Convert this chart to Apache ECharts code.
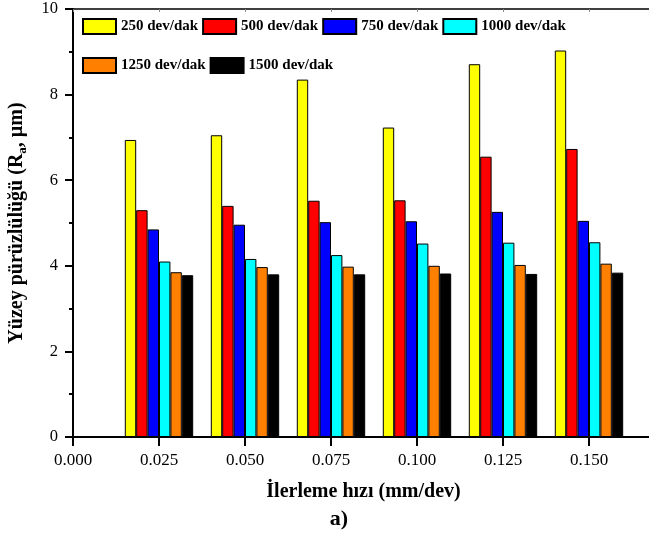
<!DOCTYPE html>
<html>
<head>
<meta charset="utf-8">
<script src="https://cdn.jsdelivr.net/npm/echarts@6/dist/echarts.min.js"></script>
<style>
  html, body { margin: 0; padding: 0; background: #fff; }
  #chart { width: 649px; height: 542px; }
</style>
</head>
<body>
<div id="chart"></div>
<script>
// ilerleme hızı (mm/dev)
const feeds = [0.025, 0.050, 0.075, 0.100, 0.125, 0.150];
const seriesNames = ['250 dev/dak', '500 dev/dak', '750 dev/dak', '1000 dev/dak', '1250 dev/dak', '1500 dev/dak'];
const seriesColors = ['#FFFF00', '#FF0000', '#0000FF', '#00FFFF', '#FF8000', '#000000'];
// Ra değerleri (µm)
const ra250 = [6.94, 7.05, 8.35, 7.23, 8.71, 9.03];
const ra500 = [5.30, 5.40, 5.52, 5.53, 6.55, 6.73];
const ra750 = [4.85, 4.96, 5.02, 5.04, 5.26, 5.05];
const ra1000 = [4.10, 4.16, 4.25, 4.52, 4.54, 4.55];
const ra1250 = [3.85, 3.97, 3.98, 4.00, 4.02, 4.05];
const ra1500 = [3.78, 3.80, 3.80, 3.82, 3.81, 3.84];
const allSeries = [ra250, ra500, ra750, ra1000, ra1250, ra1500];

const FONT = '"Liberation Serif", "Times New Roman", serif';

const chart = echarts.init(document.getElementById('chart'));

const legendBase = {
  orient: 'horizontal',
  left: 77,
  padding: 5,
  icon: 'rect',
  itemWidth: 33,
  itemHeight: 15,
  itemGap: 4,
  selectedMode: false,
  textStyle: { fontFamily: FONT, fontWeight: 'bold', fontSize: 15, color: '#000' }
};

const option = {
  backgroundColor: '#fff',
  animation: false,
  grid: { left: 73, top: 9, bottom: 105, right: -26, outerBoundsMode: 'none', containLabel: false },
  legend: [
    Object.assign({}, legendBase, { top: 13, data: seriesNames.slice(0, 4) }),
    Object.assign({}, legendBase, { top: 52, data: seriesNames.slice(4) })
  ],
  xAxis: [
    {
      type: 'value',
      min: 0,
      max: 0.175,
      interval: 0.025,
      name: 'İlerleme hızı (mm/dev)',
      nameLocation: 'middle',
      nameGap: 45,
      nameTextStyle: {
        fontFamily: FONT, fontWeight: 'bold', fontSize: 20, color: '#000',
        padding: [0, 21, 0, 0]
      },
      axisLine: { show: true, onZero: false, lineStyle: { color: '#000', width: 2 } },
      axisTick: { show: true, inside: false, length: 9, lineStyle: { color: '#000', width: 2 } },
      axisLabel: {
        fontFamily: FONT, fontSize: 17, color: '#000', margin: 15,
        formatter: v => v.toFixed(3)
      },
      splitLine: { show: false }
    },
    {
      type: 'value',
      position: 'top',
      min: 0,
      max: 0.175,
      interval: 0.025,
      axisLine: { show: true, onZero: false, lineStyle: { color: '#000', width: 1.5 } },
      axisTick: { show: true, inside: true, length: 3, lineStyle: { color: '#888', width: 1 } },
      axisLabel: { show: false },
      splitLine: { show: false }
    }
  ],
  yAxis: {
    type: 'value',
    min: 0,
    max: 10,
    interval: 2,
    name: '{t|Yüzey pürüzlülüğü (R}{s|a}{t|, µm)}',
    nameLocation: 'middle',
    nameGap: 44,
    nameTextStyle: {
      rich: {
        t: { fontFamily: FONT, fontWeight: 'bold', fontSize: 20, color: '#000', lineHeight: 24 },
        s: { fontFamily: FONT, fontWeight: 'bold', fontSize: 13, color: '#000', lineHeight: 14, verticalAlign: 'bottom' }
      }
    },
    axisLine: { show: true, onZero: false, lineStyle: { color: '#000', width: 2 } },
    axisTick: { show: true, inside: false, length: 8, lineStyle: { color: '#000', width: 2 } },
    minorTick: { show: true, splitNumber: 2, length: 4, lineStyle: { color: '#000', width: 2 } },
    axisLabel: { fontFamily: FONT, fontSize: 16.5, color: '#000', margin: 15 },
    splitLine: { show: false }
  },
  title: {
    text: 'a)',
    left: 334,
    top: 503,
    textAlign: 'center',
    textStyle: { fontFamily: FONT, fontWeight: 'bold', fontSize: 22, color: '#000' }
  },
  series: seriesNames.map((name, i) => ({
    name: name,
    type: 'bar',
    xAxisIndex: 0,
    barWidth: 11.4,
    barGap: '0%',
    itemStyle: { color: seriesColors[i], borderColor: '#000', borderWidth: 1 },
    data: feeds.map((f, j) => [f, allSeries[i][j]])
  }))
};

chart.setOption(option);
</script>
</body>
</html>
